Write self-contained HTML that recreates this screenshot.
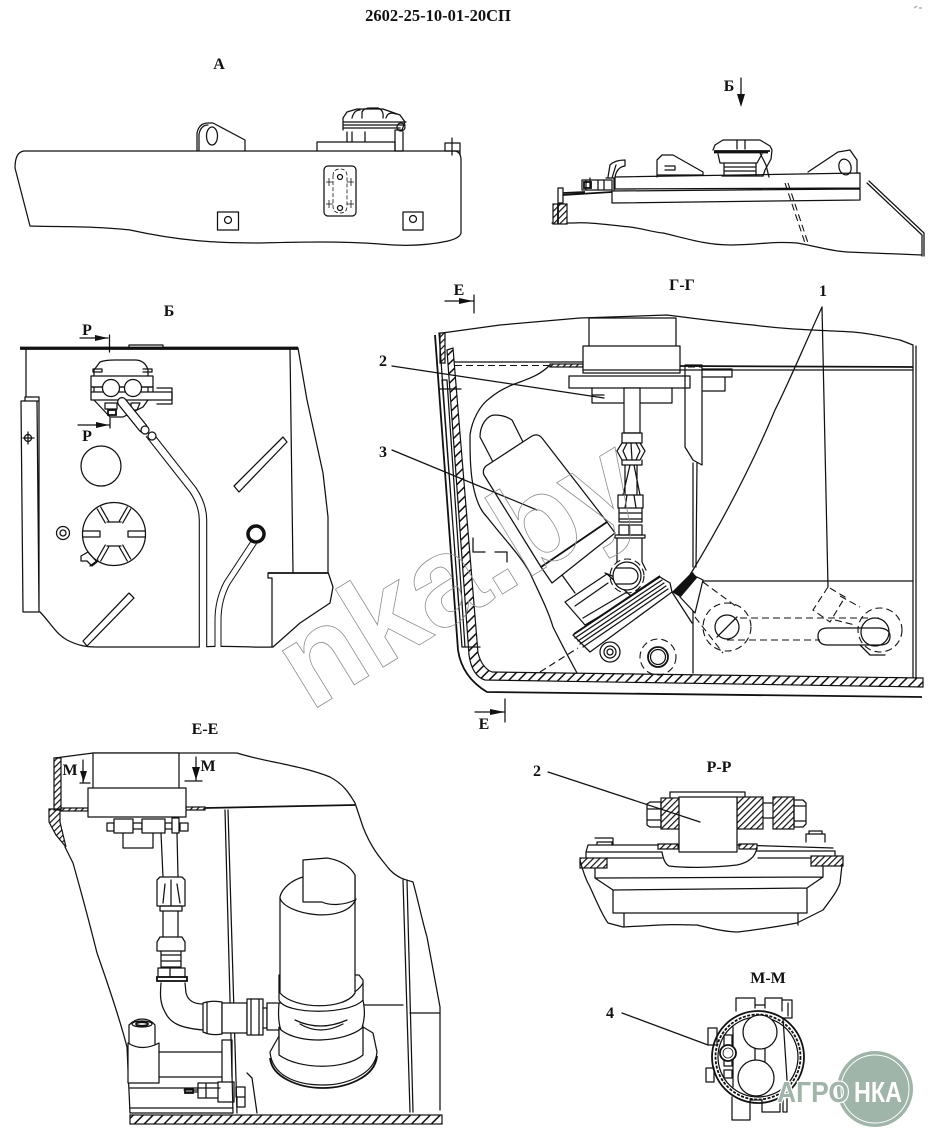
<!DOCTYPE html>
<html><head><meta charset="utf-8"><style>
html,body{margin:0;padding:0;background:#fff;width:932px;height:1148px;overflow:hidden}
svg{display:block}
text{font-family:"Liberation Serif",serif;font-weight:bold;fill:#111}
.l{fill:none;stroke:#111;stroke-width:1.25;stroke-linejoin:round;stroke-linecap:round}
.t{fill:none;stroke:#111;stroke-width:.8}
.k{fill:none;stroke:#111;stroke-width:1.8}
.w{fill:#fff;stroke:#111;stroke-width:1.25;stroke-linejoin:round}
.d{fill:none;stroke:#111;stroke-width:1.1;stroke-dasharray:7 4}
.h{fill:url(#h);stroke:#111;stroke-width:1.2}
.s{fill:url(#s);stroke:#111;stroke-width:1.2}
.f{fill:#111;stroke:none}
</style></head><body>
<svg width="932" height="1148" viewBox="0 0 932 1148" xmlns="http://www.w3.org/2000/svg">
<defs>
<pattern id="h" width="7" height="7" patternUnits="userSpaceOnUse" patternTransform="rotate(45)"><rect width="7" height="7" fill="#fff"/><rect width="1.5" height="7" fill="#111"/></pattern>
<pattern id="s" width="4.5" height="4.5" patternUnits="userSpaceOnUse" patternTransform="rotate(45)"><rect width="4.5" height="4.5" fill="#fff"/><rect width="1.2" height="4.5" fill="#111"/></pattern>
</defs>
<rect width="932" height="1148" fill="#fff"/>

<text x="438" y="21" font-size="16.5" text-anchor="middle">2602-25-10-01-20СП</text>
<path d="M914,8l3,-2M919,8h3" stroke="#a9b9ae" stroke-width="1.5" fill="none"/>

<!-- A -->
<text x="219" y="69" font-size="16" text-anchor="middle">А</text>
<path class="l" d="M24,151H455Q461,152 461,160V233Q460,238 448,241C425,246 400,246 380,244C340,241 300,242 260,243C215,243 180,241 130,230C95,226 60,227 30,226L15,168Q15,152 24,151Z"/>
<path class="l" d="M197,151V133Q199,123 208,123H213L245,140V151"/>
<path class="l" d="M199,151V134Q201,125 208,125"/>
<ellipse class="l" cx="212" cy="136" rx="5.500" ry="9"/>
<path class="l" d="M317,151V142H395V151M347,142V132M365,142V132M352,142V132"/>
<path class="l" d="M343,130V118L347,112L357,109H383L400,115L405,122L402,130H395V151H403V132M343,122H406M343,125H405M343,128H400"/>
<path class="l" d="M362,118V112Q364,108 370,108H378Q384,110 383,118M352,118Q354,110 360,110M386,118Q388,111 396,114"/>
<circle class="l" cx="401" cy="127" r="4"/>
<rect class="l" x="324" y="166" width="32" height="50" rx="4"/>
<path class="t" stroke-dasharray="4 2" d="M333,176Q333,169 340,169Q347,169 347,176V206Q347,213 340,213Q333,213 333,206Z"/>
<circle class="l" cx="340" cy="177" r="2.500"/><circle class="l" cx="340" cy="208" r="2.500"/>
<path class="t" d="M326,182h7M329,178v8M347,182h7M351,178v8M326,204h7M329,200v8M347,204h7M351,200v8"/>
<rect class="l" x="217.500" y="212" width="21" height="18"/><circle class="l" cx="228" cy="220" r="3.500"/>
<rect class="l" x="403" y="212" width="20" height="18"/><circle class="l" cx="413" cy="219" r="3.500"/>
<path class="l" d="M445,151V143H460V155M452,138V155M445,151H460"/>

<!-- view B side -->
<text x="729" y="91" font-size="16" text-anchor="middle">Б</text>
<path class="l" d="M741,78V98"/><path class="f" d="M737,94H745L741,107Z"/>
<path class="l" d="M615,177L860,173V188L615,189ZM612,191L860,189V200L612,203Z"/>
<path class="l" d="M552,223H573C590,222 610,225 630,227C645,229 652,232 663,233C685,238 705,245 730,245C755,245 775,241 797,243C815,246 830,251 847,252L922,255"/>
<path class="l" d="M867,183L922,235V256M869,181L924,233V256"/>
<path class="d" stroke-dasharray="5 3" d="M785,183L805,243M788,183L808,243"/>
<path class="l" d="M657,177V160L662,155H673L703,172V175H657M665,170H675V166H665"/>
<path class="l" d="M808,172L838,152L850,150L857,160V173"/>
<ellipse class="l" cx="845" cy="167" rx="6" ry="8" transform="rotate(-15 845 167)"/>
<path class="l" d="M713,150L715,145L723,140H760L770,146L772,150L771,159L765,170L763,176"/>
<path class="k" d="M714,151H770M714,152.500H768"/>
<path class="l" d="M718,154L720,163H757L762,154M724,163V176M756,163V176M724,167H756M724,171H756M737,140V149M745,140V149"/>
<path class="l" d="M722,176H763M760,153L766,165L769,177"/>
<path class="l" d="M608,177L610,165Q615,160 625,160V166Q617,167 615,177M612,178L616,165"/>
<path class="l" d="M582,180H612V190H582ZM586,180V190M590,178V188M598,180V190M604,180V190M606,178H614V190"/>
<rect class="k" x="584" y="182" width="7" height="6" stroke-width="1"/>
<rect class="l" x="558" y="188" width="5" height="15"/>
<path class="k" stroke-width="2" d="M563,195L612,192M563,193L585,192"/>
<rect class="s" x="553" y="204" width="14" height="20"/>
<path class="k" d="M558,204V224"/>

<!-- Б plan -->
<text x="169" y="316" font-size="16" text-anchor="middle">Б</text>
<path class="k" d="M20,347.500H298M20,349H298"/>
<path class="l" d="M129,347V345H163V347"/>
<path class="l" d="M26,349V397M25,397H39M25,397V401M39,397V612M37,401L39,612M21,401H39M21,401L23,612H39"/>
<path class="l" d="M23,438h11M28,432v12"/><circle class="l" cx="28" cy="438" r="3.500"/>
<path class="l" d="M290,349L293,572M298,348L307,400L323,473L328,517V572L333,587L330,603L300,623L273,647"/>
<path class="l" d="M40,612C50,622 55,633 67,640C77,645 85,647 96,647H200C230,645 250,648 273,647"/>
<path class="k" d="M268,573H328"/>
<path class="l" d="M268,573V578H272V647"/>
<path class="l" d="M283,437L287,442L239,492L234,486ZM129,593L134,598L87,646L83,641Z"/>
<circle class="l" cx="101" cy="466" r="20"/>
<circle class="l" cx="114" cy="534" r="31.500"/>
<path class="l" d="M107,522H121M128,531V537M121,546H107M100,537V531M83,531H100M83,537H100M128,531H145M128,537H145M108.700,521L100.700,507M105.300,523L97.300,509M119.300,521L127.300,507M122.700,523L130.700,509M108.700,547L100.700,561M105.300,545L97.300,559M119.300,547L127.300,561M122.700,545L130.700,559"/>
<circle class="l" cx="63" cy="533" r="6.500"/><circle class="l" cx="63" cy="533" r="3"/>
<path class="l" d="M81,556L88,552L97,562L92,566L87,561L81,561ZM90,566L98,560"/>
<path class="w" d="M94,370L100,362Q105,360 115,360H135Q145,360 148,370V400L143,407L123,417H110L94,400Z"/>
<path class="w" d="M91,376H153V387H91Z"/>
<path class="l" d="M91,387H153V392M91,388V392"/>
<path class="w" d="M91,392H172V400H91Z"/>
<path class="l" d="M157,388H172V404H157"/>
<circle class="w" cx="111" cy="388" r="8.500"/><circle class="w" cx="133" cy="388" r="8.500"/>
<path class="l" d="M93,372h9v-3h-9ZM143,372h9v-3h-9"/>
<path class="l" d="M105,403H117V409H105ZM131,403H140L137,410H131Z"/>
<rect class="k" x="108" y="410" width="8" height="5" stroke-width="1.500"/>
<path d="M122,402L143,428" fill="none" stroke="#111" stroke-width="10" stroke-linecap="round"/>
<path d="M122,402L143,428" fill="none" stroke="#fff" stroke-width="7.500" stroke-linecap="round"/>
<path d="M149,434L193,490Q203,505 203,520V647" fill="none" stroke="#111" stroke-width="8.500" stroke-linejoin="round"/>
<path d="M149,434L193,490Q203,505 203,520V649" fill="none" stroke="#fff" stroke-width="6.300" stroke-linejoin="round"/>
<circle class="w" cx="145" cy="430" r="4"/><circle class="w" cx="152" cy="436" r="4"/>
<path d="M254,542L227,583Q218,600 218,620V647" fill="none" stroke="#111" stroke-width="7"/>
<path d="M254,542L227,583Q218,600 218,620V649" fill="none" stroke="#fff" stroke-width="5"/>
<circle cx="256" cy="534" r="8" fill="#fff" stroke="#111" stroke-width="3.500"/>
<path class="l" d="M80,338H108M109.500,335V352M78,425H110M110,418V428"/>
<path class="f" d="M95,335L108,338L95,341ZM96,422L109,425L96,428Z"/>
<text x="87" y="335" font-size="16" text-anchor="middle">Р</text>
<text x="87" y="441" font-size="16" text-anchor="middle">Р</text>

<!-- Г-Г -->
<text x="682" y="290" font-size="16" text-anchor="middle">Г-Г</text>
<text x="823" y="296" font-size="16" text-anchor="middle">1</text>
<text x="383" y="366" font-size="16" text-anchor="middle">2</text>
<text x="383" y="457" font-size="16" text-anchor="middle">3</text>
<text x="459" y="295" font-size="16" text-anchor="middle">Е</text>
<text x="484" y="729" font-size="16" text-anchor="middle">Е</text>
<path class="l" d="M445,301H473M474,295V313M475,712H505M505,699V722"/>
<path class="f" d="M459,298L473,301L459,304ZM490,709L505,712L490,715Z"/>
<path class="l" d="M442,333L500,325L580,318L667,315C690,318 720,322 753,325C790,330 820,330 853,332C875,334 890,338 900,340L913,345"/>
<path class="l" d="M913,346V678M916,346V678"/>
<path class="k" d="M680,366L913,367"/>
<path class="l" d="M680,370L913,370M455,362H583"/>
<path class="d" d="M455,365.500H550"/>
<rect class="s" x="550" y="364" width="33" height="3"/>
<path class="h" d="M447,350L453,348L478,653Q482,668 492,672L923,678V687L485,680Q472,676 469,655Z"/>
<path class="s" d="M440,333H445V363H440Z"/>
<path class="k" stroke-width="1.400" d="M435,335L458,650Q462,677 487,692L922,697"/>
<path class="l" d="M439,333L459,610M442,380H447L465,647M442,380L462,647M462,647H480M440,389H461"/>
<path class="l" d="M550,365C540,375 530,378 520,382C508,386 497,392 490,398C480,405 472,420 470,435C470,450 470,470 473,485C476,500 480,510 487,517C505,540 520,555 530,573C540,595 548,610 553,627C562,645 570,660 577,673"/>
<path class="d" d="M540,672L578,648"/>
<path class="w" d="M589,347V318H676V347"/>
<rect class="w" x="583" y="346" width="97" height="27"/>
<path class="l" d="M583,370H680"/>
<rect class="w" x="569" y="376" width="121" height="12"/>
<path class="l" d="M592,388V403H623M640,403H672V388M592,395h12"/>
<path class="w" d="M624,388H640V433H624Z"/>
<path class="l" d="M622,433H642V443H622Z"/>
<path class="w" d="M622,443H640L645,451L640,460H622L617,451Z"/>
<path class="l" d="M627,443L623,451L627,460M636,443L640,451L636,460M631,443L632,460M622,460V465H642V460M625,465V495M637,465V495M630,465L623,495M634,465L640,495"/>
<path class="w" d="M618,495H643V508H618Z"/>
<path class="l" d="M627,495L625,508M634,495L636,508M619,508V522H642V508M619,513H642M619,519H642"/>
<path class="w" d="M619,525H642V535H619Z"/>
<path class="l" d="M629,525V535M615,535H645V538H615ZM617,538V562M642,538V562L646,570"/>
<path class="w" d="M495,415C487,415 480,425 480,437L493,462L523,442L512,420C506,416 500,415 495,415Z"/>
<path class="w" d="M484,475Q482,470 486,466L532,436Q538,433 542,438L607,522L541,567Z"/>
<path class="w" d="M607,522L615,533L552,583L541,567Z"/>
<path class="k" d="M607,522L541,567"/>
<path class="l" d="M562,575L575,593M605,573L617,578"/>
<path class="w" d="M565,602L607,574L632,597L585,625Z"/>
<path class="l" d="M575,606L608,583M583,618L627,592"/>
<circle class="w" cx="627" cy="576" r="14"/>
<circle class="d" cx="627" cy="576" r="17" stroke-dasharray="4 2"/>
<path class="l" d="M616,568H630A8,8 0 0 1 630,584H616"/>
<path class="w" d="M573,635L660,577L670,583L672,592L590,652Z"/>
<path class="l" d="M575,638L662,580M578,641L664,583M580,644L666,586M583,647L668,589"/>
<path class="k" d="M574,634L660,576"/>
<path class="l" d="M672,592L692,623M693,463V567M697,463L696,567M693,573V673M697,581L913,581"/>
<circle class="l" cx="610" cy="652" r="10"/><circle class="l" cx="610" cy="652" r="6"/><circle class="l" cx="610" cy="652" r="3"/>
<circle class="d" cx="658" cy="657" r="18" stroke-dasharray="5 3"/>
<circle class="k" cx="658" cy="657" r="10"/><circle class="l" cx="658" cy="657" r="7.500"/>
<path class="l" d="M685,365H702V465L693,460L685,447Z"/>
<path class="l" d="M703,369H732V377H703M703,377H725V391H703"/>
<path class="d" d="M688,367H702" stroke-dasharray="3 2"/>
<path class="w" d="M680,597L697,577L703,580L695,613Z"/>
<path class="f" d="M672,592L692,572L697,577L680,597Z"/>
<path class="d" stroke-dasharray="5 3" d="M703,582L737,607M695,617L723,653"/>
<circle class="d" cx="727" cy="627" r="24" stroke-dasharray="6 3"/>
<circle class="l" cx="727" cy="627" r="12"/>
<path class="l" d="M717,637L737,617"/>
<path class="d" d="M740,618H880M727,640H820"/>
<path class="d" d="M828,587L813,610L830,622L845,597L828,587M840,596L860,607M835,620L855,625"/>
<path class="l" d="M828,628H880Q890,629 890,636Q890,645 880,645H828Q818,645 818,636Q818,628 828,628Z"/>
<circle class="d" cx="880" cy="630" r="22" stroke-dasharray="6 3"/>
<circle class="l" cx="875" cy="632" r="14"/>
<path class="l" d="M860,645L870,655H885"/>
<path class="l" d="M822,307L828,587"/>
<path class="l" d="M822,307C800,355 790,380 775,410C750,470 720,525 693,570L688,578"/>
<path class="l" d="M392,366L604,398M392,450L537,510"/>
<path class="l" d="M473,538V552H485M495,552H507V562"/>

<!-- Е-Е -->
<text x="205" y="734" font-size="16" text-anchor="middle">Е-Е</text>
<path class="l" d="M55,758L93,753H180L237,753C265,762 300,765 330,777C345,785 350,795 355,803L363,827C372,850 382,860 390,870C400,880 408,880 413,882C418,900 422,920 427,937L440,1007V1110"/>
<path class="l" d="M65,847L73,863C82,895 90,925 97,953C110,990 120,1020 127,1047L130,1113"/>
<path class="s" d="M54,758H61V810H54ZM49,809H60V822L66,847L56,835L49,822Z"/>
<rect class="s" x="61" y="808" width="27" height="3"/>
<rect class="s" x="186" y="807" width="19" height="3"/>
<path class="k" d="M205,808L355,805"/>
<path class="l" d="M225,810L233,1113M228,810L237,1113M403,880L410,1112M407,880L413,1112M363,1005H403M410,1013H440"/>
<path class="w" d="M93,788V753H179V788"/>
<rect class="w" x="88" y="788" width="98" height="29"/>
<path class="l" d="M107,823h7v8h-7ZM180,823h8v8h-8ZM133,823h9v6h-9ZM165,823h7v6h-7ZM123,833V848H153V833"/>
<rect class="w" x="114" y="819" width="19" height="14"/>
<rect class="w" x="142" y="819" width="23" height="14"/>
<rect class="w" x="172" y="818" width="7" height="15"/>
<path class="l" d="M161,833L163,877M177,833L178,877M160,877H182L185,880V906H157V880Z"/>
<path class="l" d="M171,880V906M165,884L163,903M177,884L180,903M160,906H182V911H160ZM163,911V937M178,911V937"/>
<path class="l" d="M160,937H182L185,942V951H157V942ZM161,951V967H181V951M161,955H181M161,961H181M158,968H185V977H158ZM170,968V977"/>
<rect class="k" x="157" y="977" width="30" height="4" stroke-width="1.300"/>
<path class="l" d="M161,983C160,995 160,1003 165,1012C170,1023 180,1028 203,1030M185,983L186,993C188,1001 194,1004 203,1004"/>
<path class="w" d="M203,1003Q212,1000 222,1002V1034Q212,1036 203,1032Z"/>
<path class="w" d="M222,1003H247V1033H222Z"/>
<path class="w" d="M247,999H263V1035H247Z"/>
<path class="l" d="M207,1002V1033M251,999V1035M259,999V1035M263,1008H267V1028H263"/>
<path class="w" d="M267,1003H280V1030H267Z"/>
<!-- filter -->
<path class="w" d="M363,1027L373,1033L377,1052C375,1075 345,1085 323,1085C295,1085 272,1075 270,1052L279,1036V1027Z"/>
<path class="k" stroke-width="1.600" d="M270,1058C272,1078 300,1088 323,1088C345,1088 375,1078 377,1056"/>
<path class="w" d="M279,1028V1055C300,1070 345,1070 363,1055V1026C345,1042 300,1045 279,1028Z"/>
<path class="w" d="M279,1003C278,1015 279,1025 281,1030C300,1045 345,1042 362,1028C365,1018 365,1010 363,1000Z"/>
<path class="l" d="M295,1020Q320,1032 347,1020M300,1024Q320,1036 343,1024"/>
<path class="w" d="M279,978V1000C285,1015 350,1015 363,1000V980L359,975H279Z"/>
<path class="l" d="M279,985C290,1007 350,1007 363,983"/>
<path class="w" d="M280,993V897C282,888 292,880 303,877L355,875V993C345,1010 295,1010 280,993Z"/>
<path class="l" d="M280,898C285,915 345,925 356,899"/>
<path class="w" d="M303,902V860L327,858C340,860 350,866 355,875V900C345,905 330,906 322,902Z"/>
<path class="w" d="M129,1047V1025Q135,1019 142,1019Q150,1019 155,1025V1047"/>
<ellipse class="l" cx="142" cy="1024" rx="10" ry="3"/><ellipse class="k" cx="142" cy="1024" rx="6" ry="1.800"/>
<path class="w" d="M128,1043Q142,1052 159,1043V1083H128Z"/>
<path class="l" d="M159,1052H222M159,1077H222M222,1040H232V1077M222,1040V1082M130,1088H220M130,1108H233M130,1113H233"/>
<path class="l" d="M184,1090H198M186,1092H198M198,1083H218V1098H198ZM206,1083V1098M218,1082H234V1102H218ZM236,1087H245V1097H236ZM237,1097H245V1107H237ZM247,1073L252,1078L257,1113"/>
<rect class="k" x="185" y="1089" width="8" height="4" stroke-width="1.500"/>
<rect class="h" x="130" y="1115" width="312" height="9"/>
<path class="l" d="M83,760V782M80,783H90M196,757V780M185,781H202"/>
<path class="f" d="M80,771H87L83.500,782ZM192,767H200L196,780Z"/>
<text x="70" y="775" font-size="16" text-anchor="middle">М</text>
<text x="208" y="771" font-size="16" text-anchor="middle">М</text>

<!-- Р-Р -->
<text x="719" y="772" font-size="16" text-anchor="middle">Р-Р</text>
<text x="537" y="776" font-size="16" text-anchor="middle">2</text>
<path class="l" d="M670,797V792H745V797"/>
<rect class="s" x="661" y="798" width="18" height="31"/>
<rect class="s" x="737" y="797" width="26" height="32"/>
<rect class="s" x="773" y="797" width="21" height="32"/>
<path class="l" d="M763,803H773M763,818H773M647,804L650,802H661V827H650L647,825ZM647,809H661M647,820H661M794,800H803L806,803V824L803,827H794ZM794,806H806M794,821H806"/>
<rect class="w" x="679" y="797" width="58" height="55"/>
<path class="l" d="M548,772L700,822"/>
<path class="l" d="M588,845H678M738,845L833,848M586,852H662M757,851H835M588,845L586,852V858M835,851V857"/>
<path class="l" d="M597,845V842H612V845M595,838H613V845M806,842V834H825V842M809,834V831H822V834"/>
<path class="s" d="M658,844H678V849H658ZM739,844H757V849H739Z"/>
<rect class="s" x="580" y="858" width="27" height="10"/>
<rect class="s" x="811" y="856" width="32" height="10"/>
<path class="l" d="M607,858H662M758,858H811M662,852C663,858 665,864 669,866C685,868 710,868 737,865C747,863 755,858 757,848"/>
<path class="l" d="M595,868V878L613,890M823,866V877L807,888M595,878L823,877M613,890L807,888M613,890V913H807V888M624,913V927M798,913V925"/>
<path class="l" d="M580,860C583,872 586,880 590,887C596,900 602,915 608,923L623,927L660,925C675,924 690,925 697,925C710,928 725,932 738,932C755,930 775,927 797,923L823,910C832,898 838,890 840,883L842,865"/>

<!-- М-М -->
<text x="768" y="983" font-size="16" text-anchor="middle">М-М</text>
<text x="610" y="1018" font-size="16" text-anchor="middle">4</text>
<path class="l" d="M736,1011V998H755V1008M765,1008V998H782V1011M755,1005H765M783,1000H792V1018H783M788,1003V1016"/>
<path class="l" d="M732,1097V1120H750V1101M762,1098V1112H780V1098M750,1100H762M783,1097H787V1112H783ZM708,1028H717V1045H708ZM706,1068H714V1082H706Z"/>
<circle class="k" cx="758" cy="1057" r="46" stroke-width="1.500"/>
<circle cx="758" cy="1057" r="42.500" fill="#fff" stroke="#111" stroke-width="1.800" stroke-dasharray="3 1.500"/>
<circle class="l" cx="758" cy="1057" r="40"/>
<path class="l" d="M733,1027V1087M783,1018L788,1095"/>
<path class="l" d="M755,1047V1062M765,1047V1062"/>
<circle class="w" cx="760" cy="1032" r="17"/><circle class="w" cx="756" cy="1078" r="18"/>
<path class="l" d="M724,1035h8v12h-8ZM724,1058h8v8h-8ZM724,1070h8v8h-8Z"/>
<circle class="k" cx="728" cy="1053" r="8" style="fill:#fff"/>
<circle class="t" cx="728" cy="1053" r="5"/>
<path class="l" d="M622,1013L708,1045"/>

<!-- watermark -->
<text x="310" y="712" font-size="126" transform="rotate(-31.500 310 712)" style='font-family:"Liberation Sans",sans-serif;font-weight:bold;fill:none;stroke:#8f8f8f;stroke-width:.8'>nka.by</text>
<circle cx="875" cy="1089" r="38" fill="#a0b5a9"/>
<circle cx="875" cy="1089" r="34" fill="none" stroke="#fff" stroke-width="1"/>
<text x="777" y="1102" font-size="29" textLength="72" lengthAdjust="spacingAndGlyphs" style='font-family:"Liberation Sans",sans-serif;font-weight:bold;fill:#a0b5a9;stroke:#fff;stroke-width:2.500;paint-order:stroke'>АГРО</text>
<text x="854" y="1102" font-size="29" textLength="48" lengthAdjust="spacingAndGlyphs" style='font-family:"Liberation Sans",sans-serif;font-weight:bold;fill:#fff'>НКА</text>
</svg>
</body></html>
